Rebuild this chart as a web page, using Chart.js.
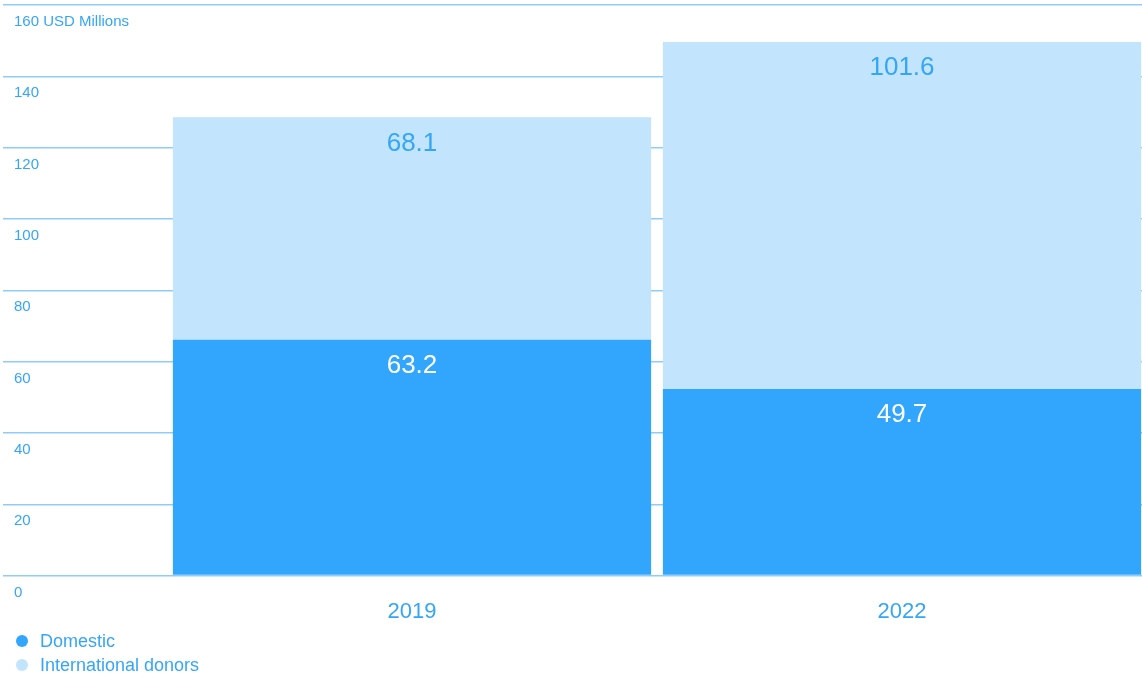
<!DOCTYPE html>
<html>
<head>
<meta charset="utf-8">
<script src="https://cdn.jsdelivr.net/npm/chart.js@4/dist/chart.umd.min.js"></script>
<style>
  html,body{margin:0;padding:0;background:#fff;overflow:hidden;}
  #wrap{position:relative;width:1142px;height:673px;overflow:hidden;}
  #chart{display:block;}
  #legend{position:absolute;left:0;top:629px;font-family:"Liberation Sans",Arial,sans-serif;font-size:18px;color:#35a6f6;}
  .item{position:relative;height:24px;line-height:24px;padding-left:40px;}
  .dot{position:absolute;left:16px;top:6px;width:12px;height:12px;border-radius:50%;}
</style>
</head>
<body>
<div id="wrap">
  <canvas id="chart" width="1147" height="673"></canvas>
  <div id="legend"></div>
</div>
<script>
// ====== DATA ======
const years = ['2019', '2022'];
// bar heights as drawn in the picture
const domesticValues = [66.1, 52.3];
const internationalValues = [62.4, 97.3];
// printed numbers on the bars
const domesticLabels = ['63.2', '49.7'];
const internationalLabels = ['68.1', '101.6'];
const seriesNames = ['Domestic', 'International donors'];

const textBlue = '#35a6f6';
const darkBlue = '#32a5fd';
const lightBlue = '#c2e5fd';

// ====== BAR LABELS ======
const barLabels = {
  id: 'barLabels',
  afterDatasetsDraw(chart){
    const ctx = chart.ctx;
    const texts = [domesticLabels, internationalLabels];
    const colors = ['#ffffff', textBlue];
    ctx.save();
    ctx.font = '26px "Liberation Sans", Arial, sans-serif';
    ctx.textAlign = 'center';
    ctx.textBaseline = 'middle';
    chart.data.datasets.forEach((ds, i) => {
      chart.getDatasetMeta(i).data.forEach((bar, j) => {
        ctx.fillStyle = colors[i];
        ctx.fillText(texts[i][j], bar.x, bar.y + 26);
      });
    });
    ctx.restore();
  }
};

// ====== CHART ======
const chart = new Chart(document.getElementById('chart'), {
  type: 'bar',
  data: {
    labels: years,
    datasets: [
      {label: seriesNames[0], data: domesticValues, backgroundColor: darkBlue},
      {label: seriesNames[1], data: internationalValues, backgroundColor: lightBlue}
    ]
  },
  options: {
    responsive: false,
    animation: false,
    layout: {padding: {left: 14, right: 0, top: 5, bottom: 25}},
    datasets: {bar: {categoryPercentage: 1, barPercentage: 0.976}},
    plugins: {legend: {display: false}, tooltip: {enabled: false}},
    scales: {
      x: {
        stacked: true,
        grid: {display: false, drawTicks: false},
        border: {display: false},
        ticks: {color: textBlue, padding: 23, font: {size: 22, family: '"Liberation Sans", Arial, sans-serif'}}
      },
      y: {
        stacked: true,
        min: 0,
        max: 160,
        afterFit(scale){
          scale.width = 153;
          scale.paddingTop = 0;
          scale.paddingBottom = 0;
        },
        grid: {color: '#8fcdf8', lineWidth: 1.5, tickLength: 164},
        border: {display: false},
        ticks: {
          stepSize: 20,
          color: textBlue,
          crossAlign: 'far',
          labelOffset: 17,
          font: {size: 15, family: '"Liberation Sans", Arial, sans-serif'},
          callback: v => v === 160 ? v + ' USD Millions' : v
        }
      }
    }
  },
  plugins: [barLabels]
});

// ====== LEGEND ======
const legend = document.getElementById('legend');
chart.data.datasets.forEach(ds => {
  const div = document.createElement('div');
  div.className = 'item';
  div.innerHTML = `<span class="dot" style="background:${ds.backgroundColor}"></span>${ds.label}`;
  legend.appendChild(div);
});
</script>
</body>
</html>
